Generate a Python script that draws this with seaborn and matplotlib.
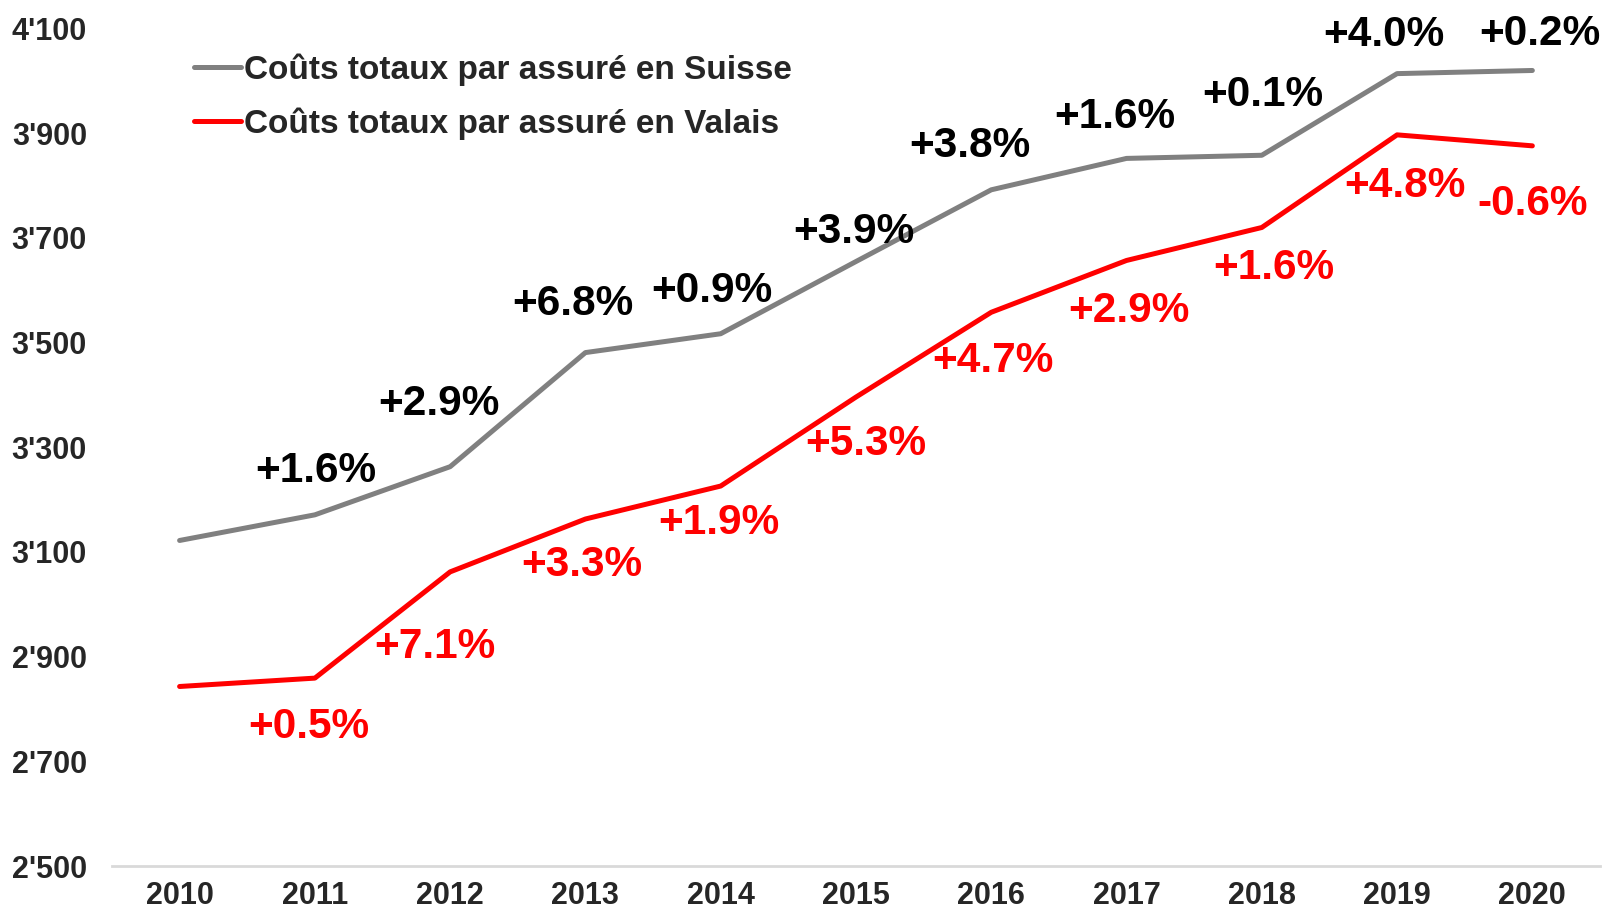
import pandas as pd
import matplotlib.pyplot as plt
import seaborn as sns
from matplotlib.ticker import FuncFormatter

sns.set_style('white')
plt.rcParams['font.family'] = ['Liberation Sans', 'DejaVu Sans']
plt.rcParams['font.weight'] = 'bold'

years = [2010, 2011, 2012, 2013, 2014, 2015, 2016, 2017, 2018, 2019, 2020]
suisse = [3122, 3171, 3263, 3481, 3517, 3655, 3792, 3852, 3858, 4014, 4020]
valais = [2843, 2859, 3062, 3163, 3226, 3396, 3558, 3657, 3720, 3897, 3876]
pct_suisse = ['', '+1.6%', '+2.9%', '+6.8%', '+0.9%', '+3.9%', '+3.8%',
              '+1.6%', '+0.1%', '+4.0%', '+0.2%']
pct_valais = ['', '+0.5%', '+7.1%', '+3.3%', '+1.9%', '+5.3%', '+4.7%',
              '+2.9%', '+1.6%', '+4.8%', '-0.6%']
label_suisse = 'Coûts totaux par assuré en Suisse'
label_valais = 'Coûts totaux par assuré en Valais'

# label offsets from each point, in pixels (x, y up)
off_suisse = [(0, 0), (1, 44), (-11, 63), (-13, 49), (-9, 43), (-2, 30),
              (-21, 44), (-12, 41), (1, 60), (-13, 39), (8, 36)]
off_valais = [(0, 0), (-6, -49), (-15, -75), (-4, -46), (-2, -37), (10, -47),
              (2, -49), (2, -51), (12, -41), (8, -51), (0, -58)]

df = pd.DataFrame({'year': years, 'suisse': suisse, 'valais': valais})

fig = plt.figure(figsize=(16.04, 9.14), dpi=100)
ax = fig.add_axes([0.0698, 0.0525, 0.9277, 0.9162])

gray = '#808080'
red = '#ff0000'
sns.lineplot(data=df, x='year', y='suisse', color=gray, linewidth=3.6,
             label=label_suisse, ax=ax)
sns.lineplot(data=df, x='year', y='valais', color=red, linewidth=3.6,
             label=label_valais, ax=ax)

for i, y in enumerate(years):
    if pct_suisse[i]:
        ax.annotate(pct_suisse[i], (y, suisse[i]), xytext=off_suisse[i],
                    textcoords='offset pixels', ha='center', va='center',
                    fontsize=30.5, fontweight='bold', color='black')
    if pct_valais[i]:
        ax.annotate(pct_valais[i], (y, valais[i]), xytext=off_valais[i],
                    textcoords='offset pixels', ha='center', va='center',
                    fontsize=30.5, fontweight='bold', color=red)

ax.set_xlim(2009.5, 2020.5)
ax.set_ylim(2500, 4100)
ax.set_xticks(years)
ax.set_yticks(range(2500, 4101, 200))
ax.yaxis.set_major_formatter(FuncFormatter(lambda v, p: f'{int(v):,}'.replace(',', "'")))
ax.set_xlabel('')
ax.set_ylabel('')
ax.tick_params(axis='both', length=0, labelsize=22)
ax.tick_params(axis='y', pad=18)
ax.tick_params(axis='x', pad=11)
for t in ax.get_xticklabels() + ax.get_yticklabels():
    t.set_fontweight('bold')

for s in ['top', 'right', 'left']:
    ax.spines[s].set_visible(False)
ax.spines['bottom'].set_color('#d9d9d9')
ax.spines['bottom'].set_linewidth(2)

ax.legend(loc='upper left', bbox_to_anchor=(194 / 1604, 0.9415),
          bbox_transform=fig.transFigure, frameon=False, fontsize=24,
          handlelength=1.4, handletextpad=0.1, labelspacing=0.64,
          borderpad=0, borderaxespad=0)

fig.savefig('out.png', dpi=100)
